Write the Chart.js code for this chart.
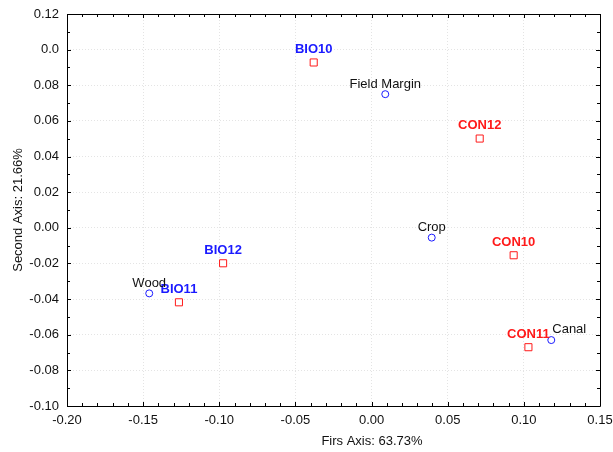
<!DOCTYPE html>
<html>
<head>
<meta charset="utf-8">
<script src="https://cdn.jsdelivr.net/npm/chart.js@4/dist/chart.umd.min.js"></script>
<style>
  html, body { margin: 0; padding: 0; background: #fff; }
  #wrap { width: 613px; height: 452px; }
</style>
</head>
<body>
<div id="wrap"><canvas id="ordChart" width="613" height="452"></canvas></div>
<script>
// sites (circles)
const siteNames = ['Field Margin', 'Crop', 'Canal', 'Wood'];
const siteX = [0.009, 0.0395, 0.118, -0.146];
const siteY = [0.075, -0.0055, -0.063, -0.0368];

// samples (squares)
const sampleNames = ['BIO10', 'BIO11', 'BIO12', 'CON10', 'CON11', 'CON12'];
const sampleX = [-0.038, -0.1265, -0.0975, 0.0933, 0.103, 0.071];
const sampleY = [0.0928, -0.0418, -0.0199, -0.0154, -0.067, 0.0501];

const xTitle = 'Firs Axis: 63.73%';
const yTitle = 'Second Axis: 21.66%';

const FONT = 'Liberation Sans, Arial, sans-serif';

function toPoints(xs, ys) {
  return xs.map((x, i) => ({ x: x, y: ys[i] }));
}

// colour of a sample label comes from its group
function sampleColor(name) {
  return name.indexOf('BIO') === 0 ? '#1a1aff' : '#ff1a1a';
}

// labels over the markers
const pointLabels = {
  id: 'pointLabels',
  afterDatasetsDraw(chart) {
    const ctx = chart.ctx;
    ctx.save();
    chart.data.datasets.forEach((ds, di) => {
      const meta = chart.getDatasetMeta(di);
      meta.data.forEach((pt, i) => {
        const name = ds.names[i];
        if (ds.kind === 'sample') {
          ctx.font = 'bold 13px ' + FONT;
          ctx.fillStyle = sampleColor(name);
        } else {
          ctx.font = '13px ' + FONT;
          ctx.fillStyle = '#111';
        }
        ctx.textBaseline = 'middle';
        if (name === 'Canal') {
          ctx.textAlign = 'left';
          ctx.fillText(name, pt.x + 1, pt.y - 11);
        } else {
          ctx.textAlign = 'center';
          ctx.fillText(name, pt.x, pt.y - (ds.kind === 'sample' ? 13 : 10));
        }
      });
    });
    ctx.restore();
  }
};

// frame, inside tick marks, axis titles
const frame = {
  id: 'frame',
  afterDraw(chart) {
    const ctx = chart.ctx;
    const a = chart.chartArea;
    const xs = chart.scales.x, ys = chart.scales.y;
    ctx.save();
    ctx.strokeStyle = '#000';
    ctx.lineWidth = 1;
    ctx.beginPath();
    ctx.rect(Math.round(a.left) + 0.5, Math.round(a.top) + 0.5,
             Math.round(a.right - a.left), Math.round(a.bottom - a.top));
    ctx.stroke();

    ctx.beginPath();
    for (let k = -20; k <= 15; k++) {
      const px = Math.round(xs.getPixelForValue(k / 100)) + 0.5;
      const len = (k % 5 === 0) ? 4 : 3;
      ctx.moveTo(px, a.bottom);
      ctx.lineTo(px, a.bottom - len);
      ctx.moveTo(px, a.top);
      ctx.lineTo(px, a.top + len);
    }
    for (let k = -10; k <= 12; k++) {
      const py = Math.round(ys.getPixelForValue(k / 100)) + 0.5;
      const len = (k % 2 === 0) ? 4 : 3;
      ctx.moveTo(a.left, py);
      ctx.lineTo(a.left + len, py);
      ctx.moveTo(a.right, py);
      ctx.lineTo(a.right - len, py);
    }
    ctx.stroke();

    ctx.fillStyle = '#111';
    ctx.font = '13px ' + FONT;
    ctx.textAlign = 'center';
    ctx.textBaseline = 'middle';
    ctx.fillText(xTitle, 372, 441);
    ctx.translate(18, (a.top + a.bottom) / 2);
    ctx.rotate(-Math.PI / 2);
    ctx.fillText(yTitle, 0, 0);
    ctx.restore();
  }
};

const ordChart = new Chart(document.getElementById('ordChart'), {
  type: 'scatter',
  data: {
    datasets: [
      {
        kind: 'sample',
        names: sampleNames,
        data: toPoints(sampleX, sampleY),
        pointStyle: 'rect',
        pointRadius: 5,
        pointHoverRadius: 5,
        borderColor: '#ff1a1a',
        backgroundColor: 'rgba(255,255,255,1)',
        borderWidth: 1
      },
      {
        kind: 'site',
        names: siteNames,
        data: toPoints(siteX, siteY),
        pointStyle: 'circle',
        pointRadius: 3.5,
        pointHoverRadius: 3.5,
        borderColor: '#1a1aff',
        backgroundColor: 'rgba(255,255,255,1)',
        borderWidth: 1
      }
    ]
  },
  options: {
    responsive: false,
    animation: false,
    layout: { padding: { top: 14, right: 13, left: 0, bottom: 0 } },
    plugins: {
      legend: { display: false },
      tooltip: { enabled: false }
    },
    scales: {
      x: {
        type: 'linear',
        min: -0.2,
        max: 0.15,
        ticks: {
          stepSize: 0.05,
          color: '#111',
          font: { family: FONT, size: 13 },
          padding: 7,
          maxRotation: 0,
          callback: v => (Math.round(v * 100) / 100).toFixed(2)
        },
        grid: { color: '#e4e4e4', lineWidth: 1, drawTicks: false },
        border: { display: false, dash: [1, 2] },
        afterFit: s => { s.height = 46; s.paddingLeft = 0; s.paddingRight = 0; }
      },
      y: {
        type: 'linear',
        min: -0.1,
        max: 0.12,
        ticks: {
          stepSize: 0.02,
          color: '#111',
          font: { family: FONT, size: 13 },
          padding: 8,
          callback: v => {
            const r = Math.round(v * 100) / 100;
            return r === 0.1 ? '0.0' : r.toFixed(2);
          }
        },
        grid: { color: '#e4e4e4', lineWidth: 1, drawTicks: false },
        border: { display: false, dash: [1, 2] },
        afterFit: s => { s.width = 67; s.paddingTop = 0; s.paddingBottom = 0; }
      }
    }
  },
  plugins: [pointLabels, frame]
});
</script>
</body>
</html>
